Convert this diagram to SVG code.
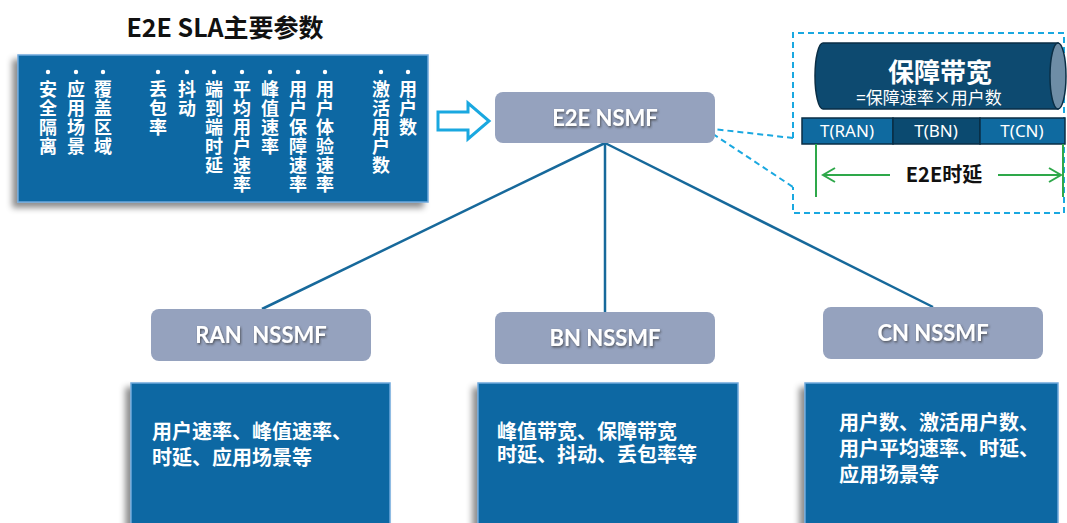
<svg xmlns="http://www.w3.org/2000/svg" width="1067" height="523" viewBox="0 0 1067 523">
<defs>
<filter id="sh" x="-10%" y="-10%" width="120%" height="130%"><feDropShadow dx="-5" dy="5" stdDeviation="3" flood-color="#000" flood-opacity="0.45"/></filter>
<filter id="ts" x="-10%" y="-30%" width="120%" height="160%"><feDropShadow dx="1" dy="1.5" stdDeviation="1" flood-color="#333" flood-opacity="0.7"/></filter>
<marker id="ga" viewBox="0 0 14 16" refX="13" refY="8" markerWidth="14" markerHeight="16" markerUnits="userSpaceOnUse" orient="auto-start-reverse" overflow="visible"><path d="M1,1 L13,8 L1,15" fill="none" stroke="#2EA84A" stroke-width="2"/></marker>
</defs>
<style>
.cj{font-family:"Noto Sans CJK SC","Noto Sans",sans-serif}
.vt{font-family:"Noto Sans CJK SC",sans-serif;font-size:18px;font-weight:bold;fill:#fff;writing-mode:vertical-rl;text-orientation:upright;letter-spacing:1px}
.nd{fill:#95A2BE}
.nl{font-family:Lato,"Noto Sans",sans-serif;font-weight:bold;font-size:22px;fill:#fff;text-anchor:middle}
.bx{fill:#0B68A3;stroke:#6FA8DC;stroke-width:1.5}
.bt{font-family:"Noto Sans CJK SC",sans-serif;font-size:20px;font-weight:bold;fill:#fff}
.ln{stroke:#17699B;stroke-width:2.5;fill:none}
.dash{stroke:#1AA8E0;stroke-width:2;fill:none;stroke-dasharray:6 4}
.tseg{stroke:#0A2E45;stroke-width:1.5}
.tt{font-family:"Noto Sans","Liberation Sans",sans-serif;font-size:17px;fill:#fff;text-anchor:middle}
</style>
<rect width="1067" height="523" fill="#fff"/>

<g id="title"><text x="225" y="37" class="cj" font-size="25" font-weight="bold" text-anchor="middle" fill="#111">E2E SLA主要参数</text></g>

<g id="sla-panel">
<rect x="18" y="55" width="410" height="147" fill="#0B68A3" stroke="#6FA8DC" stroke-width="1.5" filter="url(#sh)"/>
<g fill="#fff">
<circle cx="48" cy="72" r="2.2"/><circle cx="76" cy="72" r="2.2"/><circle cx="103" cy="72" r="2.2"/>
<circle cx="158" cy="72" r="2.2"/><circle cx="187" cy="72" r="2.2"/><circle cx="214" cy="72" r="2.2"/>
<circle cx="242" cy="72" r="2.2"/><circle cx="270" cy="72" r="2.2"/><circle cx="298" cy="72" r="2.2"/>
<circle cx="325" cy="72" r="2.2"/><circle cx="381" cy="72" r="2.2"/><circle cx="408" cy="72" r="2.2"/>
</g>
<text class="vt" x="48" y="80">安全隔离</text>
<text class="vt" x="76" y="80">应用场景</text>
<text class="vt" x="103" y="80">覆盖区域</text>
<text class="vt" x="158" y="80">丢包率</text>
<text class="vt" x="187" y="80">抖动</text>
<text class="vt" x="214" y="80">端到端时延</text>
<text class="vt" x="242" y="80">平均用户速率</text>
<text class="vt" x="270" y="80">峰值速率</text>
<text class="vt" x="298" y="80">用户保障速率</text>
<text class="vt" x="325" y="80">用户体验速率</text>
<text class="vt" x="381" y="80">激活用户数</text>
<text class="vt" x="408" y="80">用户数</text>
</g>

<g id="input-arrow"><path d="M438,112 L468,112 L468,103 L489,121 L468,139 L468,130 L438,130 Z" fill="#fff" stroke="#1AA8E0" stroke-width="3" stroke-linejoin="miter"/></g>

<g id="connectors">
<line class="ln" x1="605" y1="143" x2="262" y2="309"/>
<line class="ln" x1="605" y1="143" x2="605" y2="312"/>
<line class="ln" x1="605" y1="143" x2="933" y2="307"/>
<path class="dash" d="M793,138 L793,33 L1064,33 L1064,213 L793,213 L793,187"/>
<path class="dash" d="M793,138 L704,128 L793,187"/>
</g>

<g id="e2e-nsmf"><rect class="nd" x="495" y="92" width="220" height="51" rx="8"/><text class="nl" x="605" y="126" filter="url(#ts)">E2E NSMF</text></g>

<g id="ran-nssmf"><rect class="nd" x="151" y="309" width="220" height="52" rx="8"/><text class="nl" x="261" y="343" filter="url(#ts)" xml:space="preserve">RAN  NSSMF</text></g>
<g id="bn-nssmf"><rect class="nd" x="495" y="312" width="220" height="52" rx="8"/><text class="nl" x="605" y="346" filter="url(#ts)">BN NSSMF</text></g>
<g id="cn-nssmf"><rect class="nd" x="823" y="307" width="220" height="52" rx="8"/><text class="nl" x="933" y="341" filter="url(#ts)">CN NSSMF</text></g>

<g id="ran-params"><rect class="bx" x="131" y="383" width="259" height="150" filter="url(#sh)"/>
<text class="bt" y="439"><tspan x="152">用户速率、峰值速率、</tspan><tspan x="152" dy="26">时延、应用场景等</tspan></text></g>
<g id="bn-params"><rect class="bx" x="478" y="383" width="260" height="150" filter="url(#sh)"/>
<text class="bt" y="439"><tspan x="497">峰值带宽、保障带宽</tspan><tspan x="497" dy="23">时延、抖动、丢包率等</tspan></text></g>
<g id="cn-params"><rect class="bx" x="805" y="383" width="253" height="150" filter="url(#sh)"/>
<text class="bt" y="430"><tspan x="839">用户数、激活用户数、</tspan><tspan x="839" dy="26">用户平均速率、时延、</tspan><tspan x="839" dy="26">应用场景等</tspan></text></g>

<g id="bandwidth-cylinder">
<path d="M823,43 L1058,43 L1058,109 L823,109 A8,33 0 0 1 823,43 Z" fill="#0D4A70" stroke="#0A2E45" stroke-width="1.5"/>
<ellipse cx="1058" cy="76" rx="8" ry="33" fill="#6E8DA6" stroke="#0A2E45" stroke-width="1.5"/>
<text class="cj" fill="#fff" text-anchor="middle" y="82"><tspan x="940" font-size="26" font-weight="bold">保障带宽</tspan><tspan x="929" dy="22" font-size="17">=保障速率×用户数</tspan></text>
</g>

<g id="latency-bar">
<rect class="tseg" x="802" y="118" width="91" height="26" fill="#0F6AA0"/>
<rect class="tseg" x="893" y="118" width="87" height="26" fill="#0B4A70"/>
<rect class="tseg" x="980" y="118" width="85" height="26" fill="#0F6AA0"/>
<text class="tt" x="847" y="137">T(RAN)</text>
<text class="tt" x="936" y="137">T(BN)</text>
<text class="tt" x="1022" y="137">T(CN)</text>
</g>

<g id="e2e-latency">
<line x1="816" y1="144" x2="816" y2="197" stroke="#2EA84A" stroke-width="2"/>
<line x1="1063" y1="144" x2="1063" y2="197" stroke="#2EA84A" stroke-width="2"/>
<line x1="823" y1="175" x2="890" y2="175" stroke="#2EA84A" stroke-width="2" marker-start="url(#ga)"/>
<line x1="998" y1="175" x2="1061" y2="175" stroke="#2EA84A" stroke-width="2" marker-end="url(#ga)"/>
<text x="944" y="182" class="cj" font-size="20" font-weight="bold" fill="#111" text-anchor="middle">E2E时延</text>
</g>
</svg>
